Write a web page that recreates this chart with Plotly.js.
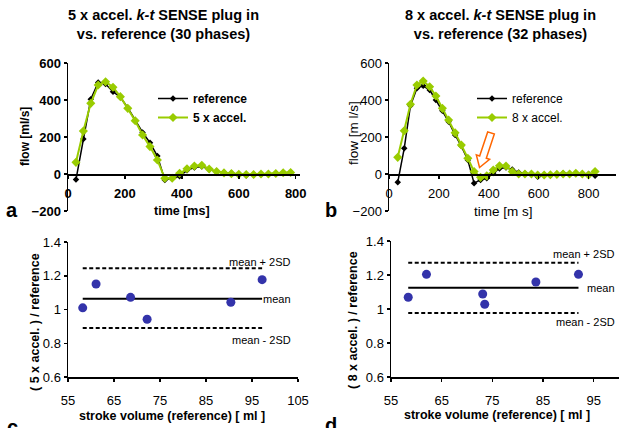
<!DOCTYPE html>
<html>
<head>
<meta charset="utf-8">
<script src="https://cdn.plot.ly/plotly-3.0.1.min.js"></script>
<style>html,body{margin:0;padding:0;background:#fff;}#chart{width:627px;height:428px;}</style>
</head>
<body>
<div id="chart"></div>
<script>
// ---- Data ----
const timeA = [28, 54, 80, 106, 132, 158, 184, 210, 236, 262, 288, 314, 340, 366, 392, 418, 444, 470, 496, 522, 548, 574, 600, 626, 652, 678, 704, 730, 756, 782];
const refA  = [-30, 189, 404, 494, 486, 445, 415, 358, 292, 225, 169, 97, -32, -23, -12, 20, 35, 40, 25, 12, 8, 6, -3, -8, -2, -1, 0, 2, 6, 8];
const accA  = [63, 232, 382, 481, 499, 469, 418, 355, 288, 211, 148, 76, -23, -23, 4, 28, 43, 47, 27, 13, 6, 2, -2, -3, -3, 0, 0, 3, 7, 8];

const timeB = [35, 61, 86, 112, 137, 163, 188, 214, 239, 265, 290, 316, 341, 367, 392, 418, 443, 469, 494, 520, 545, 571, 596, 622, 647, 673, 698, 724, 749, 775, 800, 826];
const refB  = [-45, 139, 369, 463, 477, 454, 400, 342, 283, 211, 151, 76, -50, -32, -23, 5, 30, 35, 25, 8, 3, 0, -15, -5, -8, -3, 4, 3, 0, 2, 0, -10];
const accB  = [90, 234, 377, 481, 503, 472, 422, 355, 292, 223, 157, 85, 13, -18, -10, 22, 45, 43, 13, 0, 0, 0, -5, -5, -4, -2, 0, 0, 4, 0, -5, 13];

const svC    = [58.2, 61.1, 68.6, 72.2, 90.4, 97.2];
const ratioC = [1.010, 1.151, 1.072, 0.942, 1.043, 1.177];
const statsC = {mean: 1.064, upper: 1.244, lower: 0.891};

const svD    = [58.4, 62.0, 73.1, 73.5, 83.6, 92.0];
const ratioD = [1.069, 1.204, 1.088, 1.028, 1.159, 1.204];
const statsD = {mean: 1.125, upper: 1.272, lower: 0.976};

const flowTicks = [-200, 0, 200, 400, 600];
const timeTicksA = [0, 200, 400, 600, 800];
const timeTicksB = [0, 200, 400, 600, 800];
const ratioTicks = [0.6, 0.8, 1, 1.2, 1.4];
const ratioTickText = ['0.6', '0.8', '1', '1.2', '1.4'];
const svTicksC = [55, 65, 75, 85, 95, 105];
const svTicksD = [55, 65, 75, 85, 95];

// ---- Geometry helpers (pixel -> paper) ----
const W = 627, H = 428;
const px = x => x / W;
const py = y => 1 - y / H;

const BLACK = '#000000';
const GREEN = '#99CC00';
const BLUE = '#3333AA';
const FONT = 'Liberation Sans, Arial, sans-serif';
const NARROW = 'Liberation Sans Narrow, Arial Narrow, Liberation Sans, Arial, sans-serif';

function hLine(xs, yv, dash, xa, ya) {
  const x0 = Math.min(...xs), x1 = Math.max(...xs);
  return {x: [x0, x1], y: [yv, yv], xaxis: xa, yaxis: ya, mode: 'lines',
    line: {color: BLACK, width: 2, dash: dash}, showlegend: false, hoverinfo: 'skip'};
}

const traces = [
  {x: timeA, y: refA, xaxis: 'x', yaxis: 'y', name: 'reference', mode: 'lines+markers',
   line: {color: BLACK, width: 1.5}, marker: {symbol: 'diamond', size: 5, color: BLACK}, legend: 'legend'},
  {x: timeA, y: accA, xaxis: 'x', yaxis: 'y', name: '5 x accel.', mode: 'lines+markers',
   line: {color: GREEN, width: 2}, marker: {symbol: 'diamond', size: 7, color: GREEN}, legend: 'legend'},
  {x: timeB, y: refB, xaxis: 'x2', yaxis: 'y2', name: 'reference', mode: 'lines+markers',
   line: {color: BLACK, width: 1.5}, marker: {symbol: 'diamond', size: 5, color: BLACK}, legend: 'legend2'},
  {x: timeB, y: accB, xaxis: 'x2', yaxis: 'y2', name: '8 x accel.', mode: 'lines+markers',
   line: {color: GREEN, width: 2}, marker: {symbol: 'diamond', size: 7, color: GREEN}, legend: 'legend2'},
  hLine(svC, statsC.upper, '4px,2.5px', 'x3', 'y3'),
  hLine(svC, statsC.mean, 'solid', 'x3', 'y3'),
  hLine(svC, statsC.lower, '4px,2.5px', 'x3', 'y3'),
  {x: svC, y: ratioC, xaxis: 'x3', yaxis: 'y3', mode: 'markers', showlegend: false,
   marker: {color: BLUE, size: 9}},
  hLine(svD, statsD.upper, '4px,2.5px', 'x4', 'y4'),
  hLine(svD, statsD.mean, 'solid', 'x4', 'y4'),
  hLine(svD, statsD.lower, '4px,2.5px', 'x4', 'y4'),
  {x: svD, y: ratioD, xaxis: 'x4', yaxis: 'y4', mode: 'markers', showlegend: false,
   marker: {color: BLUE, size: 9}}
];

const flowDom = [py(211), py(63)];
const zeroPos = flowDom[0] + 0.25 * (flowDom[1] - flowDom[0]);

function axisBase(extra) {
  return Object.assign({showgrid: false, zeroline: false, showline: true, linecolor: BLACK,
    linewidth: 1.5, ticks: 'outside', ticklen: 3, tickcolor: BLACK, tickwidth: 1.5,
    fixedrange: true}, extra);
}
const boldTick = {family: FONT, size: 13, color: BLACK, weight: 'bold'};
const narrowTick = {family: NARROW, size: 13, color: BLACK};

// Hollow arrow (panel b) in pixel space
function arrowPath(tail, tip) {
  const dx = tip[0] - tail[0], dy = tip[1] - tail[1];
  const L = Math.hypot(dx, dy);
  const u = [dx / L, dy / L], n = [-u[1], u[0]];
  const hb = [tip[0] - u[0] * 11, tip[1] - u[1] * 11];
  const p = (b, s) => [b[0] + n[0] * s, b[1] + n[1] * s];
  const pts = [p(tail, -3.5), p(hb, -3.5), p(hb, -7), tip, p(hb, 7), p(hb, 3.5), p(tail, 3.5)];
  return 'M' + pts.map(q => px(q[0]).toFixed(4) + ',' + py(q[1]).toFixed(4)).join(' L') + ' Z';
}

const ann = (text, x, y, opts) => Object.assign({text: text, x: px(x), y: py(y), xref: 'paper', yref: 'paper',
  showarrow: false, xanchor: 'center', yanchor: 'middle',
  font: {family: FONT, size: 12.5, color: BLACK, weight: 'bold'}}, opts || {});

const smallFont = {family: FONT, size: 11, color: BLACK};

const layout = {
  width: W, height: H, margin: {l: 0, r: 0, t: 0, b: 0},
  paper_bgcolor: '#fff', plot_bgcolor: 'rgba(0,0,0,0)',
  xaxis: axisBase({domain: [px(68), px(300)], range: [0, 815], anchor: 'free', position: zeroPos,
    tickvals: timeTicksA, tickfont: boldTick, ticklabelstandoff: 4}),
  yaxis: axisBase({domain: flowDom, range: [-200, 600], anchor: 'x', tickvals: flowTicks, tickfont: boldTick}),
  xaxis2: axisBase({domain: [px(389), px(616)], range: [0, 910], anchor: 'free', position: zeroPos,
    tickvals: timeTicksB, tickfont: narrowTick, ticklabelstandoff: 4}),
  yaxis2: axisBase({domain: flowDom, range: [-200, 600], anchor: 'x2', tickvals: flowTicks, tickfont: narrowTick}),
  xaxis3: axisBase({domain: [px(68), px(298)], range: [55, 105], anchor: 'y3', tickvals: svTicksC,
    tickfont: narrowTick, ticklabelstandoff: 8}),
  yaxis3: axisBase({domain: [py(377), py(242)], range: [0.6, 1.4], anchor: 'x3', tickvals: ratioTicks,
    ticktext: ratioTickText, tickfont: narrowTick}),
  xaxis4: axisBase({domain: [px(391), px(619)], range: [55, 100], anchor: 'y4', tickvals: svTicksD,
    tickfont: narrowTick, ticklabelstandoff: 8}),
  yaxis4: axisBase({domain: [py(377), py(241)], range: [0.6, 1.4], anchor: 'x4', tickvals: ratioTicks,
    ticktext: ratioTickText, tickfont: narrowTick}),
  legend: {x: px(153), y: py(84), xanchor: 'left', yanchor: 'top', bgcolor: 'rgba(0,0,0,0)',
    font: {family: FONT, size: 12, color: BLACK, weight: 'bold'}},
  legend2: {x: px(472), y: py(84), xanchor: 'left', yanchor: 'top', bgcolor: 'rgba(0,0,0,0)',
    font: {family: FONT, size: 12, color: BLACK}},
  shapes: [
    {type: 'path', xref: 'paper', yref: 'paper', path: arrowPath([491, 133], [479.5, 167.5]),
     line: {color: '#FF6600', width: 1.5}, fillcolor: 'rgba(0,0,0,0)'}
  ],
  annotations: [
    ann('5 x accel. <i>k-t</i> SENSE plug in<br>vs. reference (30 phases)', 163, 24,
      {font: {family: FONT, size: 14.5, color: BLACK, weight: 'bold'}}),
    ann('8 x accel. <i>k-t</i> SENSE plug in<br>vs. reference (32 phases)', 500, 24,
      {font: {family: FONT, size: 14.5, color: BLACK, weight: 'bold'}}),
    ann('flow [ml/s]', 25, 137, {textangle: -90, font: {family: FONT, size: 12, color: BLACK, weight: 'bold'}}),
    ann('flow [m l/s]', 353, 133, {textangle: -90, font: {family: NARROW, size: 13.5, color: BLACK}}),
    ann('time [ms]', 182, 211),
    ann('time [m s]', 503, 211, {font: {family: NARROW, size: 13.5, color: BLACK}}),
    ann('a', 12, 210, {font: {family: FONT, size: 20, color: BLACK, weight: 'bold'}}),
    ann('b', 331, 210, {font: {family: FONT, size: 20, color: BLACK, weight: 'bold'}}),
    ann('c', 12, 427, {font: {family: FONT, size: 20, color: BLACK, weight: 'bold'}}),
    ann('d', 331, 425, {font: {family: FONT, size: 20, color: BLACK, weight: 'bold'}}),
    ann('( 5 x accel. ) / reference', 35, 322, {textangle: -90}),
    ann('( 8 x accel. ) / reference', 353, 320, {textangle: -90}),
    ann('stroke volume (reference) [ ml ]', 172, 416),
    ann('stroke volume (reference) [ ml ]', 497, 415),
    // Bland-Altman line labels (panel c)
    {text: 'mean + 2SD', x: 104, y: 1.281, xref: 'x3', yref: 'y3', xanchor: 'right', yanchor: 'middle', showarrow: false, font: smallFont},
    {text: 'mean', x: 104, y: statsC.mean, xref: 'x3', yref: 'y3', xanchor: 'right', yanchor: 'middle', showarrow: false, font: smallFont},
    {text: 'mean - 2SD', x: 104, y: 0.819, xref: 'x3', yref: 'y3', xanchor: 'right', yanchor: 'middle', showarrow: false, font: smallFont},
    // panel d
    {text: 'mean + 2SD', x: 99.6, y: 1.324, xref: 'x4', yref: 'y4', xanchor: 'right', yanchor: 'middle', showarrow: false, font: smallFont},
    {text: 'mean', x: 99.6, y: statsD.mean, xref: 'x4', yref: 'y4', xanchor: 'right', yanchor: 'middle', showarrow: false, font: smallFont},
    {text: 'mean - 2SD', x: 99.6, y: 0.924, xref: 'x4', yref: 'y4', xanchor: 'right', yanchor: 'middle', showarrow: false, font: smallFont}
  ]
};

Plotly.newPlot('chart', traces, layout, {displayModeBar: false, staticPlot: true});
</script>
</body>
</html>
